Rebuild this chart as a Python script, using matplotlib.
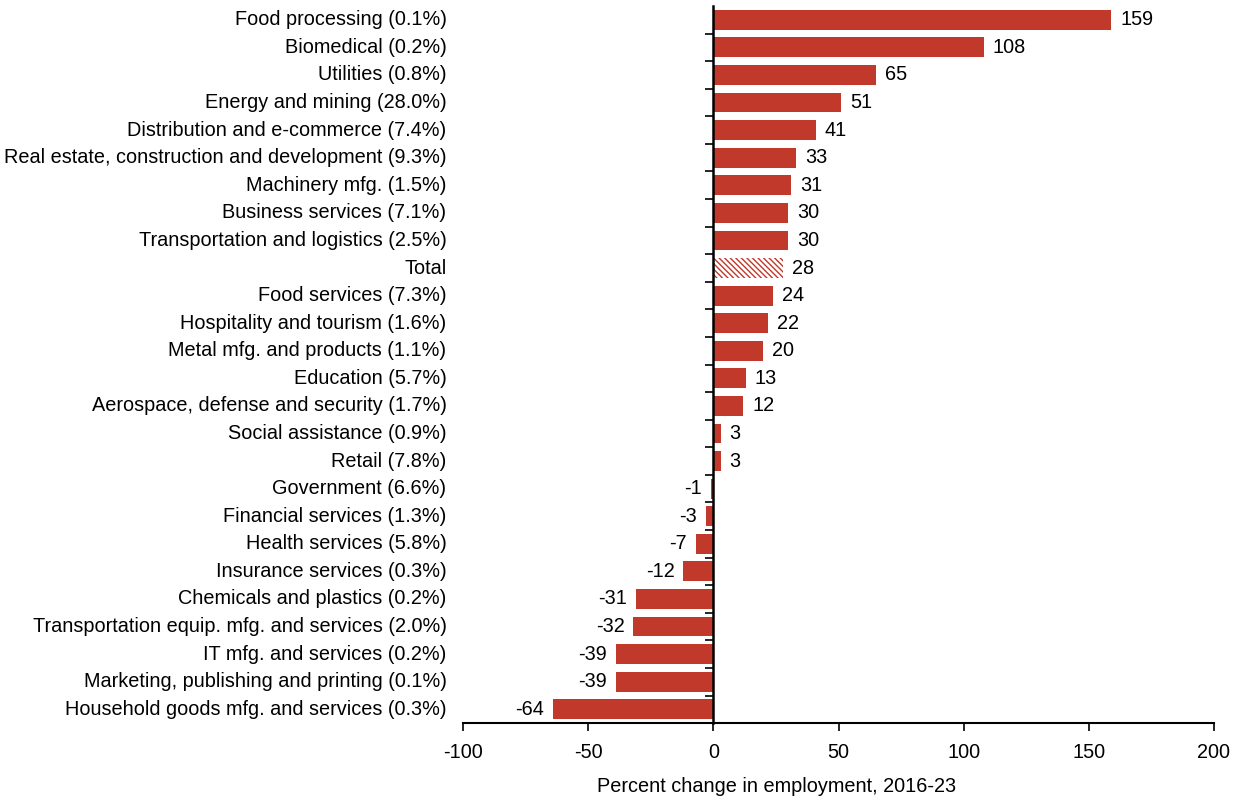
import matplotlib
matplotlib.use("Agg")
from matplotlib import pyplot as plt
import matplotlib.transforms as mtransforms

plt.rcParams['font.family'] = ['Liberation Sans', 'DejaVu Sans']
plt.rcParams['hatch.linewidth'] = 1.0
plt.rcParams['axes.unicode_minus'] = False

categories = [
    "Food processing (0.1%)",
    "Biomedical (0.2%)",
    "Utilities (0.8%)",
    "Energy and mining (28.0%)",
    "Distribution and e-commerce (7.4%)",
    "Real estate, construction and development (9.3%)",
    "Machinery mfg. (1.5%)",
    "Business services (7.1%)",
    "Transportation and logistics (2.5%)",
    "Total",
    "Food services (7.3%)",
    "Hospitality and tourism (1.6%)",
    "Metal mfg. and products (1.1%)",
    "Education (5.7%)",
    "Aerospace, defense and security (1.7%)",
    "Social assistance (0.9%)",
    "Retail (7.8%)",
    "Government (6.6%)",
    "Financial services (1.3%)",
    "Health services (5.8%)",
    "Insurance services (0.3%)",
    "Chemicals and plastics (0.2%)",
    "Transportation equip. mfg. and services (2.0%)",
    "IT mfg. and services (0.2%)",
    "Marketing, publishing and printing (0.1%)",
    "Household goods mfg. and services (0.3%)",
]
values = [159, 108, 65, 51, 41, 33, 31, 30, 30, 28, 24, 22, 20, 13, 12,
          3, 3, -1, -3, -7, -12, -31, -32, -39, -39, -64]

red = '#c0392b'
fs = 14.3

fig = plt.figure(figsize=(12.45, 7.99), dpi=100)
ax = fig.add_axes([0.372, 0.095, 0.603, 0.8975])

ypos = list(range(len(categories)))
for y, v, name in zip(ypos, values, categories):
    if name == "Total":
        ax.barh(y, v, height=0.72, color='white', edgecolor=red,
                hatch='\\\\\\\\\\\\', linewidth=0)
    else:
        ax.barh(y, v, height=0.72, color=red)
    if v >= 0:
        ax.text(v + 3.5, y, str(v), va='center', ha='left', fontsize=fs)
    else:
        ax.text(v - 3.5, y, str(v), va='center', ha='right', fontsize=fs)

ax.set_xlim(-100, 200)
ax.set_ylim(len(categories) - 0.5, -0.5)
ax.set_xticks([-100, -50, 0, 50, 100, 150, 200])
ax.tick_params(axis='x', labelsize=fs, direction='out', length=6, width=1.2, pad=8)

# category labels at the left edge of the plot
trans = mtransforms.blended_transform_factory(ax.transAxes, ax.transData)
for y, name in zip(ypos, categories):
    ax.text(-0.022, y, name, transform=trans, ha='right', va='center', fontsize=fs)

ax.spines['left'].set_position(('data', 0))
ax.spines['left'].set_linewidth(1.8)
ax.spines['bottom'].set_linewidth(1.5)
ax.spines['top'].set_visible(False)
ax.spines['right'].set_visible(False)
ax.set_yticks([y + 0.5 for y in ypos[:-1]])
ax.set_yticklabels([])
ax.tick_params(axis='y', direction='out', length=6, width=1.2)

ax.set_xlabel("Percent change in employment, 2016-23", fontsize=fs, labelpad=12)
ax.xaxis.set_label_coords(0.417, -0.075)

fig.savefig("out.png", dpi=100)
